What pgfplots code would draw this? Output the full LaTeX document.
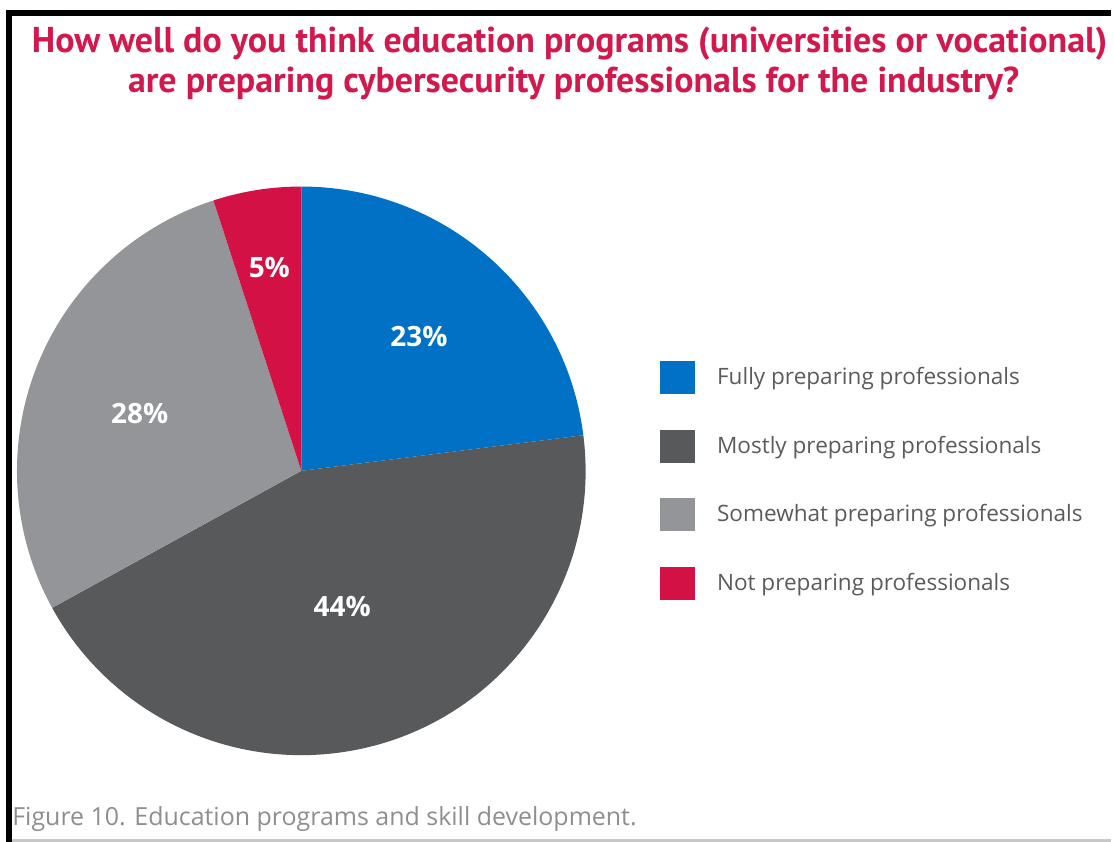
\documentclass[border=0pt]{standalone}
\usepackage{pgfplots}
\pgfplotsset{compat=1.18}
\usepackage{fontspec}
\setmainfont{Open Sans}
\newfontfamily\titlefont{PT Sans}
\definecolor{cblue}{HTML}{0071C5}
\definecolor{cdark}{HTML}{58595B}
\definecolor{clight}{HTML}{939598}
\definecolor{cred}{HTML}{D31145}
\definecolor{ctitle}{HTML}{D2194D}
\definecolor{ctext}{HTML}{5B5B5B}
\definecolor{ccap}{HTML}{8E8E8E}
% slice: cumulative share before, share, colour
\newcommand\slice[3]{%
  \fill[#3] (axis cs:302,372) -- ++({90-3.6*#1}:142.5pt)
    arc[start angle={90-3.6*#1}, end angle={90-3.6*(#1+#2)}, radius=142.5pt] -- cycle;}
\tikzset{plab/.style={text=white, font=\bfseries\fontsize{14}{16}\selectfont},
  ttl/.style={text=ctitle, font=\titlefont\bfseries\fontsize{18}{20}\selectfont, anchor=base}}
\begin{document}
\begin{tikzpicture}
\begin{axis}[
  x=0.5pt, y=0.5pt, xmin=0, xmax=1114, ymin=0, ymax=844,
  hide axis, clip=false,
  legend style={at={(axis cs:662,482)}, anchor=north west, draw=none, fill=none,
    inner sep=0pt, outer sep=0pt, row sep=18pt,
    font=\fontsize{11.3}{13}\selectfont, text=ctext,
    /tikz/every odd column/.style={column sep=9pt}},
  legend cell align=left,
  legend image code/.code={\fill[#1] (0pt,-8pt) rectangle (17pt,8pt);},
]
% canvas
\path (axis cs:0,0) rectangle (axis cs:1114,844);
% frame
\fill[black] (axis cs:6,828) rectangle (axis cs:1114,834);
\fill[black] (axis cs:6,0) rectangle (axis cs:12,834);
\fill[black!22] (axis cs:12,0) rectangle (axis cs:1114,2.5);
% pie (23, 44, 28, 5 percent, clockwise from top)
\slice{0}{23}{cblue}
\slice{23}{44}{cdark}
\slice{67}{28}{clight}
\slice{95}{5}{cred}
\addlegendimage{cblue}\addlegendentry{Fully preparing professionals}
\addlegendimage{cdark}\addlegendentry{Mostly preparing professionals}
\addlegendimage{clight}\addlegendentry{Somewhat preparing professionals}
\addlegendimage{cred}\addlegendentry{Not preparing professionals}
% slice labels
\node[plab] at (axis cs:420,507) {23\%};
\node[plab] at (axis cs:343,236) {44\%};
\node[plab] at (axis cs:140,429) {28\%};
\node[plab] at (axis cs:270,576) {5\%};
% title
\node[ttl] at (axis cs:571,791) {How well do you think education programs (universities or vocational)};
\node[ttl] at (axis cs:575,751) {are preparing cybersecurity professionals for the industry?};
% caption
\node[text=ccap, font=\fontsize{12.5}{14}\selectfont, anchor=base west, inner sep=0pt]
  at (axis cs:12,17) {Figure 10. Education programs and skill development.};
\end{axis}
\end{tikzpicture}
\end{document}
